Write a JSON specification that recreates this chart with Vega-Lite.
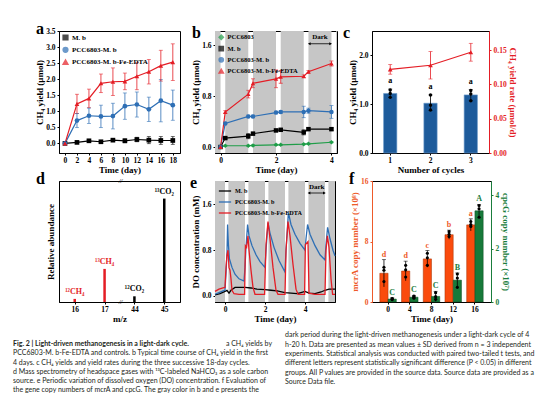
{
"$schema": "https://vega.github.io/schema/vega-lite/v6.json",
"background": "white",
"padding": {"left": 13, "top": 20, "right": 0, "bottom": 0},
"config": {
  "font": "Liberation Serif",
  "view": {"stroke": "black", "strokeWidth": 1},
  "axis": {"labelFont": "Liberation Serif", "labelFontWeight": "bold", "labelFontSize": 7.5, "labelColor": "black", "titleFont": "Liberation Serif", "titleFontWeight": "bold", "titleFontSize": 9, "titleColor": "black", "domainColor": "black", "tickColor": "black", "tickSize": 2, "labelPadding": 1, "titlePadding": 1.5, "grid": false, "minExtent": 0, "labelFlush": false, "labelOverlap": false},
  "axisY": {"labelPadding": 2},
  "title": {"font": "Liberation Serif", "fontSize": 16, "fontWeight": "bold", "anchor": "start", "frame": "group", "color": "black", "offset": -10, "baseline": "alphabetic"},
  "legend": {"labelFont": "Liberation Serif", "labelFontWeight": "bold", "labelColor": "black"}
},
"datasets": {
  "a": [
    {"s":"M. b","t":0,"v":0,"e":0},{"s":"M. b","t":2,"v":0.03,"e":0.03},{"s":"M. b","t":4,"v":0.08,"e":0.04},{"s":"M. b","t":6,"v":0.05,"e":0.03},{"s":"M. b","t":8,"v":0.1,"e":0.04},{"s":"M. b","t":10,"v":0.08,"e":0.06},{"s":"M. b","t":12,"v":0.12,"e":0.07},{"s":"M. b","t":14,"v":0.1,"e":0.11},{"s":"M. b","t":16,"v":0.09,"e":0.12},{"s":"M. b","t":18,"v":0.09,"e":0.12},
    {"s":"PCC6803-M. b","t":0,"v":0,"e":0},{"s":"PCC6803-M. b","t":2,"v":0.71,"e":0.22},{"s":"PCC6803-M. b","t":4,"v":0.86,"e":0.24},{"s":"PCC6803-M. b","t":6,"v":0.84,"e":0.35},{"s":"PCC6803-M. b","t":8,"v":0.85,"e":0.4},{"s":"PCC6803-M. b","t":10,"v":1.16,"e":0.41},{"s":"PCC6803-M. b","t":12,"v":1.21,"e":0.39},{"s":"PCC6803-M. b","t":14,"v":1.06,"e":0.38},{"s":"PCC6803-M. b","t":16,"v":1.33,"e":0.66},{"s":"PCC6803-M. b","t":18,"v":1.19,"e":0.47},
    {"s":"PCC6803-M. b-Fe-EDTA","t":0,"v":0,"e":0},{"s":"PCC6803-M. b-Fe-EDTA","t":2,"v":1.23,"e":0.3},{"s":"PCC6803-M. b-Fe-EDTA","t":4,"v":1.4,"e":0.29},{"s":"PCC6803-M. b-Fe-EDTA","t":6,"v":1.87,"e":0.29},{"s":"PCC6803-M. b-Fe-EDTA","t":8,"v":1.92,"e":0.43},{"s":"PCC6803-M. b-Fe-EDTA","t":10,"v":1.93,"e":0.26},{"s":"PCC6803-M. b-Fe-EDTA","t":12,"v":2.09,"e":0.42},{"s":"PCC6803-M. b-Fe-EDTA","t":14,"v":2.23,"e":0.38},{"s":"PCC6803-M. b-Fe-EDTA","t":16,"v":2.42,"e":0.48},{"s":"PCC6803-M. b-Fe-EDTA","t":18,"v":2.53,"e":0.57}
  ],
  "b": [
    {"s":"PCC6803","t":0,"v":0,"e":0},{"s":"PCC6803","t":0.17,"v":0.02,"e":0.01},{"s":"PCC6803","t":1,"v":0.02,"e":0.01},{"s":"PCC6803","t":1.17,"v":0.025,"e":0.01},{"s":"PCC6803","t":2,"v":0.035,"e":0.01},{"s":"PCC6803","t":2.17,"v":0.035,"e":0.01},{"s":"PCC6803","t":3,"v":0.045,"e":0.01},{"s":"PCC6803","t":3.17,"v":0.05,"e":0.01},{"s":"PCC6803","t":4,"v":0.075,"e":0.01},
    {"s":"M. b","t":0,"v":0,"e":0},{"s":"M. b","t":0.17,"v":0.14,"e":0.02},{"s":"M. b","t":1,"v":0.17,"e":0.04},{"s":"M. b","t":1.17,"v":0.21,"e":0.02},{"s":"M. b","t":2,"v":0.26,"e":0.02},{"s":"M. b","t":2.17,"v":0.27,"e":0.02},{"s":"M. b","t":3,"v":0.23,"e":0.04},{"s":"M. b","t":3.17,"v":0.28,"e":0.02},{"s":"M. b","t":4,"v":0.28,"e":0.02},
    {"s":"PCC6803-M. b","t":0,"v":0,"e":0},{"s":"PCC6803-M. b","t":0.17,"v":0.37,"e":0.02},{"s":"PCC6803-M. b","t":1,"v":0.48,"e":0.02},{"s":"PCC6803-M. b","t":1.17,"v":0.48,"e":0.02},{"s":"PCC6803-M. b","t":2,"v":0.54,"e":0.02},{"s":"PCC6803-M. b","t":2.17,"v":0.55,"e":0.02},{"s":"PCC6803-M. b","t":3,"v":0.55,"e":0.09},{"s":"PCC6803-M. b","t":3.17,"v":0.57,"e":0.04},{"s":"PCC6803-M. b","t":4,"v":0.55,"e":0.1},
    {"s":"PCC6803-M. b-Fe-EDTA","t":0,"v":0,"e":0},{"s":"PCC6803-M. b-Fe-EDTA","t":0.17,"v":0.55,"e":0.02},{"s":"PCC6803-M. b-Fe-EDTA","t":1,"v":0.83,"e":0.06},{"s":"PCC6803-M. b-Fe-EDTA","t":1.17,"v":1.0,"e":0.07},{"s":"PCC6803-M. b-Fe-EDTA","t":2,"v":1.07,"e":0.14},{"s":"PCC6803-M. b-Fe-EDTA","t":2.17,"v":1.1,"e":0.1},{"s":"PCC6803-M. b-Fe-EDTA","t":3,"v":1.11,"e":0.02},{"s":"PCC6803-M. b-Fe-EDTA","t":3.17,"v":1.18,"e":0.02},{"s":"PCC6803-M. b-Fe-EDTA","t":4,"v":1.31,"e":0.04}
  ],
  "bandsB": [{"start":-0.2,"end":0},{"start":0.17,"end":1},{"start":1.17,"end":2},{"start":2.17,"end":3},{"start":3.17,"end":4},{"start":4.17,"end":4.2}],
  "darkB": [{"start":3.2,"end":3.97,"mid":3.585,"ay":1.62,"ty":1.73,"label":"Dark"}],
  "bandsE": [{"start":-0.5,"end":0},{"start":0.17,"end":1},{"start":1.17,"end":2},{"start":2.17,"end":3},{"start":3.17,"end":4},{"start":4.17,"end":5},{"start":5.17,"end":5.5}],
  "darkE": [{"start":4.2,"end":4.97,"mid":4.585,"ay":1.8,"ty":1.91,"label":"Dark"}],
  "cbar": [{"cycle":1,"v":1.22,"lo":1.14,"hi":1.31,"letter":"a"},{"cycle":2,"v":1.02,"lo":0.87,"hi":1.19,"letter":"a"},{"cycle":3,"v":1.19,"lo":1.07,"hi":1.3,"letter":"a"}],
  "cdot": [{"cycle":1,"v":1.29},{"cycle":1,"v":1.22},{"cycle":1,"v":1.14},{"cycle":2,"v":1.19},{"cycle":2,"v":0.98},{"cycle":2,"v":0.88},{"cycle":3,"v":1.28},{"cycle":3,"v":1.21},{"cycle":3,"v":1.07}],
  "crate": [{"cycle":1,"v":0.122,"lo":0.115,"hi":0.129},{"cycle":2,"v":0.128,"lo":0.108,"hi":0.148},{"cycle":3,"v":0.147,"lo":0.134,"hi":0.16}],
  "d": [{"mz":"16","v":0.03,"label":"¹²CH₄","g":"CH4"},{"mz":"17","v":0.32,"label":"¹³CH₄","g":"CH4"},{"mz":"44","v":0.055,"label":"¹²CO₂","g":"CO2"},{"mz":"45","v":1.0,"label":"¹³CO₂","g":"CO2"}],
  "dbreak": [{"mz":"17","v":1.17,"mark":"//"},{"mz":"17","v":0,"mark":"//"}],
  "e": [
    {"s":"M. b","t":-0.5,"v":0.02},{"s":"M. b","t":-0.25,"v":0.04},{"s":"M. b","t":0,"v":0.08},{"s":"M. b","t":0.1,"v":0.1},{"s":"M. b","t":0.2,"v":0.05},{"s":"M. b","t":0.3,"v":0.1},{"s":"M. b","t":0.5,"v":0.15},{"s":"M. b","t":0.8,"v":0.15},{"s":"M. b","t":1.0,"v":0.15},{"s":"M. b","t":1.3,"v":0.14},{"s":"M. b","t":1.6,"v":0.12},{"s":"M. b","t":2.0,"v":0.11},{"s":"M. b","t":2.3,"v":0.1},{"s":"M. b","t":2.6,"v":0.09},{"s":"M. b","t":3.0,"v":0.06},{"s":"M. b","t":3.3,"v":0.05},{"s":"M. b","t":3.6,"v":0.04},{"s":"M. b","t":3.8,"v":0.06},{"s":"M. b","t":4.0,"v":0.08},{"s":"M. b","t":4.2,"v":0.05},{"s":"M. b","t":4.5,"v":0.04},{"s":"M. b","t":4.8,"v":0.07},{"s":"M. b","t":5.0,"v":0.1},{"s":"M. b","t":5.2,"v":0.12},{"s":"M. b","t":5.5,"v":0.12},
    {"s":"PCC6803-M. b","t":-0.5,"v":0.03},{"s":"PCC6803-M. b","t":-0.3,"v":0.06},{"s":"PCC6803-M. b","t":-0.1,"v":0.09},{"s":"PCC6803-M. b","t":0,"v":0.1},{"s":"PCC6803-M. b","t":0.05,"v":0.4},{"s":"PCC6803-M. b","t":0.1,"v":0.75},{"s":"PCC6803-M. b","t":0.13,"v":1.25},{"s":"PCC6803-M. b","t":0.17,"v":0.9},{"s":"PCC6803-M. b","t":0.22,"v":0.65},{"s":"PCC6803-M. b","t":0.35,"v":0.5},{"s":"PCC6803-M. b","t":0.5,"v":0.38},{"s":"PCC6803-M. b","t":0.7,"v":0.3},{"s":"PCC6803-M. b","t":0.95,"v":0.26},{"s":"PCC6803-M. b","t":1.0,"v":0.5},{"s":"PCC6803-M. b","t":1.05,"v":0.85},{"s":"PCC6803-M. b","t":1.13,"v":1.25},{"s":"PCC6803-M. b","t":1.2,"v":1.05},{"s":"PCC6803-M. b","t":1.35,"v":0.88},{"s":"PCC6803-M. b","t":1.55,"v":0.72},{"s":"PCC6803-M. b","t":1.75,"v":0.6},{"s":"PCC6803-M. b","t":2.0,"v":0.5},{"s":"PCC6803-M. b","t":2.05,"v":0.8},{"s":"PCC6803-M. b","t":2.15,"v":1.28},{"s":"PCC6803-M. b","t":2.25,"v":1.1},{"s":"PCC6803-M. b","t":2.45,"v":0.85},{"s":"PCC6803-M. b","t":2.7,"v":0.62},{"s":"PCC6803-M. b","t":3.0,"v":0.42},{"s":"PCC6803-M. b","t":3.05,"v":0.8},{"s":"PCC6803-M. b","t":3.17,"v":1.46},{"s":"PCC6803-M. b","t":3.3,"v":1.25},{"s":"PCC6803-M. b","t":3.5,"v":1.08},{"s":"PCC6803-M. b","t":3.75,"v":0.92},{"s":"PCC6803-M. b","t":4.0,"v":0.8},{"s":"PCC6803-M. b","t":4.05,"v":1.0},{"s":"PCC6803-M. b","t":4.13,"v":1.25},{"s":"PCC6803-M. b","t":4.25,"v":1.08},{"s":"PCC6803-M. b","t":4.5,"v":0.88},{"s":"PCC6803-M. b","t":4.75,"v":0.72},{"s":"PCC6803-M. b","t":5.0,"v":0.63},{"s":"PCC6803-M. b","t":5.05,"v":0.9},{"s":"PCC6803-M. b","t":5.13,"v":1.2},{"s":"PCC6803-M. b","t":5.25,"v":1.0},{"s":"PCC6803-M. b","t":5.4,"v":0.8},{"s":"PCC6803-M. b","t":5.5,"v":0.7},
    {"s":"PCC6803-M. b-Fe-EDTA","t":-0.5,"v":0.08},{"s":"PCC6803-M. b-Fe-EDTA","t":-0.3,"v":0.12},{"s":"PCC6803-M. b-Fe-EDTA","t":-0.1,"v":0.14},{"s":"PCC6803-M. b-Fe-EDTA","t":0,"v":0.15},{"s":"PCC6803-M. b-Fe-EDTA","t":0.05,"v":0.5},{"s":"PCC6803-M. b-Fe-EDTA","t":0.1,"v":0.72},{"s":"PCC6803-M. b-Fe-EDTA","t":0.15,"v":0.8},{"s":"PCC6803-M. b-Fe-EDTA","t":0.2,"v":0.5},{"s":"PCC6803-M. b-Fe-EDTA","t":0.25,"v":0.45},{"s":"PCC6803-M. b-Fe-EDTA","t":0.3,"v":0.3},{"s":"PCC6803-M. b-Fe-EDTA","t":0.35,"v":0.1},{"s":"PCC6803-M. b-Fe-EDTA","t":0.45,"v":0.04},{"s":"PCC6803-M. b-Fe-EDTA","t":0.7,"v":0.03},{"s":"PCC6803-M. b-Fe-EDTA","t":0.98,"v":0.03},{"s":"PCC6803-M. b-Fe-EDTA","t":1.02,"v":0.88},{"s":"PCC6803-M. b-Fe-EDTA","t":1.08,"v":0.85},{"s":"PCC6803-M. b-Fe-EDTA","t":1.15,"v":1.05},{"s":"PCC6803-M. b-Fe-EDTA","t":1.2,"v":0.8},{"s":"PCC6803-M. b-Fe-EDTA","t":1.3,"v":0.45},{"s":"PCC6803-M. b-Fe-EDTA","t":1.4,"v":0.15},{"s":"PCC6803-M. b-Fe-EDTA","t":1.5,"v":0.03},{"s":"PCC6803-M. b-Fe-EDTA","t":1.98,"v":0.03},{"s":"PCC6803-M. b-Fe-EDTA","t":2.05,"v":0.9},{"s":"PCC6803-M. b-Fe-EDTA","t":2.15,"v":1.3},{"s":"PCC6803-M. b-Fe-EDTA","t":2.25,"v":1.0},{"s":"PCC6803-M. b-Fe-EDTA","t":2.4,"v":0.5},{"s":"PCC6803-M. b-Fe-EDTA","t":2.55,"v":0.1},{"s":"PCC6803-M. b-Fe-EDTA","t":2.65,"v":0.03},{"s":"PCC6803-M. b-Fe-EDTA","t":3.0,"v":0.03},{"s":"PCC6803-M. b-Fe-EDTA","t":3.05,"v":0.8},{"s":"PCC6803-M. b-Fe-EDTA","t":3.15,"v":1.3},{"s":"PCC6803-M. b-Fe-EDTA","t":3.25,"v":1.05},{"s":"PCC6803-M. b-Fe-EDTA","t":3.4,"v":0.55},{"s":"PCC6803-M. b-Fe-EDTA","t":3.55,"v":0.12},{"s":"PCC6803-M. b-Fe-EDTA","t":3.65,"v":0.03},{"s":"PCC6803-M. b-Fe-EDTA","t":3.98,"v":0.03},{"s":"PCC6803-M. b-Fe-EDTA","t":4.02,"v":0.9},{"s":"PCC6803-M. b-Fe-EDTA","t":4.15,"v":0.95},{"s":"PCC6803-M. b-Fe-EDTA","t":4.2,"v":0.05},{"s":"PCC6803-M. b-Fe-EDTA","t":4.5,"v":0.03},{"s":"PCC6803-M. b-Fe-EDTA","t":5.0,"v":0.03},{"s":"PCC6803-M. b-Fe-EDTA","t":5.05,"v":0.8},{"s":"PCC6803-M. b-Fe-EDTA","t":5.12,"v":1.05},{"s":"PCC6803-M. b-Fe-EDTA","t":5.2,"v":0.85},{"s":"PCC6803-M. b-Fe-EDTA","t":5.3,"v":0.3},{"s":"PCC6803-M. b-Fe-EDTA","t":5.38,"v":0.03},{"s":"PCC6803-M. b-Fe-EDTA","t":5.5,"v":0.03}
  ],
  "fm": [{"t":0,"gene":"mcrA","v":3.8,"lo":2.0,"hi":5.6,"letter":"d"},{"t":4,"gene":"mcrA","v":4.1,"lo":2.8,"hi":5.4,"letter":"d"},{"t":8,"gene":"mcrA","v":5.7,"lo":4.6,"hi":6.8,"letter":"c"},{"t":12,"gene":"mcrA","v":8.9,"lo":8.3,"hi":9.5,"letter":"b"},{"t":16,"gene":"mcrA","v":10.2,"lo":9.4,"hi":11.0,"letter":"a"}],
  "fmd": [{"t":0,"gene":"mcrA","v":4.6},{"t":0,"gene":"mcrA","v":4.2},{"t":0,"gene":"mcrA","v":2.7},{"t":4,"gene":"mcrA","v":4.85},{"t":4,"gene":"mcrA","v":4.25},{"t":4,"gene":"mcrA","v":3.3},{"t":8,"gene":"mcrA","v":6.45},{"t":8,"gene":"mcrA","v":5.85},{"t":8,"gene":"mcrA","v":4.85},{"t":12,"gene":"mcrA","v":9.3},{"t":12,"gene":"mcrA","v":8.95},{"t":12,"gene":"mcrA","v":8.65},{"t":16,"gene":"mcrA","v":10.65},{"t":16,"gene":"mcrA","v":10.25},{"t":16,"gene":"mcrA","v":10.0}],
  "fc": [{"t":0,"gene":"cpcG","v":0.11,"lo":0.06,"hi":0.16,"letter":"C"},{"t":4,"gene":"cpcG","v":0.18,"lo":0.11,"hi":0.25,"letter":"C"},{"t":8,"gene":"cpcG","v":0.21,"lo":0.02,"hi":0.4,"letter":"C"},{"t":12,"gene":"cpcG","v":0.82,"lo":0.55,"hi":1.09,"letter":"B"},{"t":16,"gene":"cpcG","v":3.42,"lo":3.18,"hi":3.66,"letter":"A"}],
  "fcd": [{"t":0,"gene":"cpcG","v":0.13},{"t":0,"gene":"cpcG","v":0.11},{"t":0,"gene":"cpcG","v":0.09},{"t":4,"gene":"cpcG","v":0.22},{"t":4,"gene":"cpcG","v":0.18},{"t":4,"gene":"cpcG","v":0.14},{"t":8,"gene":"cpcG","v":0.35},{"t":8,"gene":"cpcG","v":0.2},{"t":8,"gene":"cpcG","v":0.1},{"t":12,"gene":"cpcG","v":1.05},{"t":12,"gene":"cpcG","v":0.9},{"t":12,"gene":"cpcG","v":0.55},{"t":16,"gene":"cpcG","v":3.62},{"t":16,"gene":"cpcG","v":3.5},{"t":16,"gene":"cpcG","v":3.18}],
  "cap": [
    {"col":"L","line":1,"part":"head","txt":"Fig. 2 | Light-driven methanogenesis in a light-dark cycle."},
    {"col":"L","line":1,"part":"tail","txt":"a CH₄ yields by"},
    {"col":"L","line":2,"part":"body","txt":"PCC6803-M. b-Fe-EDTA and controls. b Typical time course of CH₄ yield in the first"},
    {"col":"L","line":3,"part":"body","txt":"4 days. c CH₄ yields and yield rates during the three successive 18-day cycles."},
    {"col":"L","line":4,"part":"body","txt":"d Mass spectrometry of headspace gases with ¹³C-labeled NaHCO₃ as a sole carbon"},
    {"col":"L","line":5,"part":"body","txt":"source. e Periodic variation of dissolved oxygen (DO) concentration. f Evaluation of"},
    {"col":"L","line":6,"part":"body","txt":"the gene copy numbers of mcrA and cpcG. The gray color in b and e presents the"},
    {"col":"R","line":1,"part":"body","txt":"dark period during the light-driven methanogenesis under a light-dark cycle of 4"},
    {"col":"R","line":2,"part":"body","txt":"h-20 h. Data are presented as mean values ± SD derived from n = 3 independent"},
    {"col":"R","line":3,"part":"body","txt":"experiments. Statistical analysis was conducted with paired two-tailed t tests, and"},
    {"col":"R","line":4,"part":"body","txt":"different letters represent statistically significant difference (P < 0.05) in different"},
    {"col":"R","line":5,"part":"body","txt":"groups. All P values are provided in the source data. Source data are provided as a"},
    {"col":"R","line":6,"part":"body","txt":"Source Data file."}
  ]
},
"columns": 3,
"align": "each",
"bounds": "flush",
"spacing": {"row": 28, "column": 35},
"resolve": {"scale": {"color": "independent", "shape": "independent", "strokeWidth": "independent"}, "legend": {"color": "independent", "shape": "independent", "strokeWidth": "independent"}},
"concat": [
   {
    "width": 121, "height": 122,
    "title": {"text": "a", "dx": -23},
    "data": {"name": "a"},
    "encoding": {
      "x": {"field": "t", "type": "quantitative", "title": "Time (day)", "scale": {"domain": [-1, 19.2], "nice": false, "zero": false}, "axis": {"values": [0,2,4,6,8,10,12,14,16,18]}},
      "y": {"field": "v", "type": "quantitative", "title": "CH₄ yield (μmol)", "scale": {"domain": [-0.3, 3.5], "nice": false, "zero": false}, "axis": {"values": [0,0.5,1,1.5,2,2.5,3,3.5], "format": ".1f"}},
      "color": {"field": "s", "type": "nominal", "scale": {"domain": ["M. b","PCC6803-M. b","PCC6803-M. b-Fe-EDTA"], "range": ["#000000","#2e6fb5","#e41d25"]}, "legend": {"orient": "top-left", "title": null, "offset": 3, "labelFontSize": 7, "symbolSize": 22, "rowPadding": 1.3, "padding": 0, "labelOffset": 3}}
    },
    "layer": [
      {"mark": {"type": "errorbar", "ticks": true, "size": 4, "thickness": 0.8}, "encoding": {"yError": {"field": "e"}}},
      {"mark": {"type": "line", "strokeWidth": 1.2}},
      {"mark": {"type": "point", "filled": true, "size": 22, "opacity": 1}, "encoding": {"shape": {"field": "s", "type": "nominal", "scale": {"domain": ["M. b","PCC6803-M. b","PCC6803-M. b-Fe-EDTA"], "range": ["square","circle","triangle-up"]}, "legend": {"orient": "top-left", "title": null, "offset": 3, "labelFontSize": 7, "symbolSize": 22, "rowPadding": 1.3, "padding": 0, "labelOffset": 3}}}}
    ]
   },
   {
    "width": 122, "height": 122,
    "title": {"text": "b", "dx": -23},
    "layer": [
      {"data": {"name": "bandsB"}, "mark": {"type": "rect", "color": "#c6c6c6"}, "encoding": {"x": {"field": "start", "type": "quantitative", "title": "Time (day)", "scale": {"domain": [-0.2, 4.2], "nice": false, "zero": false}, "axis": {"values": [0,1,2,3,4]}}, "x2": {"field": "end"}}},
      {"data": {"name": "b"},
       "encoding": {
         "x": {"field": "t", "type": "quantitative", "title": "Time (day)"},
         "y": {"field": "v", "type": "quantitative", "title": "CH₄ yield (μmol)", "scale": {"domain": [-0.094, 1.82], "nice": false, "zero": false}, "axis": {"values": [0,0.4,0.8,1.2,1.6], "format": ".1f"}},
         "color": {"field": "s", "type": "nominal", "scale": {"domain": ["PCC6803","M. b","PCC6803-M. b","PCC6803-M. b-Fe-EDTA"], "range": ["#1f9d48","#000000","#2e6fb5","#e41d25"]}, "legend": {"orient": "top-left", "title": null, "offset": 3, "labelFontSize": 6.5, "symbolSize": 18, "rowPadding": 0.3, "padding": 0, "labelOffset": 3}}
       },
       "layer": [
         {"mark": {"type": "errorbar", "ticks": true, "size": 4, "thickness": 0.8}, "encoding": {"yError": {"field": "e"}}},
         {"mark": {"type": "line", "strokeWidth": 1.2}},
         {"mark": {"type": "point", "filled": true, "size": 20, "opacity": 1}, "encoding": {"shape": {"field": "s", "type": "nominal", "scale": {"domain": ["PCC6803","M. b","PCC6803-M. b","PCC6803-M. b-Fe-EDTA"], "range": ["diamond","square","circle","triangle-up"]}, "legend": {"orient": "top-left", "title": null, "offset": 3, "labelFontSize": 6.5, "symbolSize": 18, "rowPadding": 0.3, "padding": 0, "labelOffset": 3}}}}
       ]
      },
      {"data": {"name": "darkB"}, "mark": {"type": "text", "fontSize": 7, "fontWeight": "bold", "baseline": "middle"}, "encoding": {"x": {"field": "mid", "type": "quantitative", "title": "Time (day)"}, "y": {"field": "ty", "type": "quantitative", "title": "CH₄ yield (μmol)"}, "text": {"field": "label"}}},
      {"data": {"name": "darkB"}, "mark": {"type": "rule", "strokeWidth": 0.8, "color": "black"}, "encoding": {"x": {"field": "start", "type": "quantitative", "title": "Time (day)"}, "x2": {"field": "end"}, "y": {"field": "ay", "type": "quantitative", "title": "CH₄ yield (μmol)"}}},
      {"data": {"name": "darkB"}, "mark": {"type": "point", "shape": "triangle-left", "filled": true, "size": 10, "color": "black", "opacity": 1}, "encoding": {"x": {"field": "start", "type": "quantitative", "title": "Time (day)"}, "y": {"field": "ay", "type": "quantitative", "title": "CH₄ yield (μmol)"}}},
      {"data": {"name": "darkB"}, "mark": {"type": "point", "shape": "triangle-right", "filled": true, "size": 10, "color": "black", "opacity": 1}, "encoding": {"x": {"field": "end", "type": "quantitative", "title": "Time (day)"}, "y": {"field": "ay", "type": "quantitative", "title": "CH₄ yield (μmol)"}}}
    ]
   },
   {
    "width": 117, "height": 122,
    "title": {"text": "c", "dx": -29},
    "layer": [
      {"encoding": {"x": {"field": "cycle", "type": "ordinal", "title": "Number of cycles", "scale": {"domain": [1,2,3], "paddingInner": 0.67, "paddingOuter": 0.287}, "axis": {"labelAngle": 0}}},
       "layer": [
         {"data": {"name": "cbar"}, "mark": {"type": "bar", "color": "#1d5b9b", "stroke": "#6f9ccc", "strokeWidth": 0.6}, "encoding": {"y": {"field": "v", "type": "quantitative", "title": "CH₄ yield (μmol)", "scale": {"domain": [0, 2.5], "nice": false}, "axis": {"values": [0,0.5,1,1.5,2,2.5], "format": ".1f"}}}},
         {"data": {"name": "cbar"}, "mark": {"type": "errorbar", "ticks": true, "size": 4, "thickness": 0.8, "color": "black"}, "encoding": {"y": {"field": "lo", "type": "quantitative", "title": "CH₄ yield (μmol)"}, "y2": {"field": "hi"}}},
         {"data": {"name": "cdot"}, "mark": {"type": "point", "filled": true, "size": 12, "color": "black", "opacity": 1}, "encoding": {"y": {"field": "v", "type": "quantitative", "title": "CH₄ yield (μmol)"}}},
         {"data": {"name": "cbar"}, "mark": {"type": "text", "baseline": "bottom", "dy": -4, "fontSize": 8, "fontWeight": "bold"}, "encoding": {"y": {"field": "hi", "type": "quantitative", "title": "CH₄ yield (μmol)"}, "text": {"field": "letter"}}}
       ]
      },
      {"data": {"name": "crate"},
       "encoding": {"x": {"field": "cycle", "type": "ordinal", "title": "Number of cycles"}},
       "layer": [
         {"mark": {"type": "errorbar", "ticks": true, "size": 4, "thickness": 0.8, "color": "#e41d25"}, "encoding": {"y": {"field": "lo", "type": "quantitative", "title": "CH₄ yield rate (μmol/d)"}, "y2": {"field": "hi"}}},
         {"mark": {"type": "line", "strokeWidth": 1.2, "color": "#e41d25"}, "encoding": {"y": {"field": "v", "type": "quantitative", "title": "CH₄ yield rate (μmol/d)", "scale": {"domain": [0, 0.178], "nice": false}, "axis": {"orient": "right", "values": [0,0.05,0.1,0.15], "format": ".2f", "domainColor": "#e41d25", "tickColor": "#e41d25", "labelColor": "#e41d25", "titleColor": "#e41d25"}}}},
         {"mark": {"type": "point", "shape": "triangle-up", "filled": true, "size": 22, "color": "#e41d25", "opacity": 1}, "encoding": {"y": {"field": "v", "type": "quantitative", "title": "CH₄ yield rate (μmol/d)"}}}
       ]
      }
    ],
    "resolve": {"scale": {"y": "independent"}}
   },
   {
    "width": 121, "height": 121,
    "title": {"text": "d", "dx": -23},
    "layer": [
      {"data": {"name": "d"}, "mark": {"type": "bar", "size": 2.5},
       "encoding": {
         "x": {"field": "mz", "type": "ordinal", "title": "m/z", "scale": {"type": "point", "domain": ["16","17","44","45"], "padding": 0.527}, "axis": {"labelAngle": 0}},
         "y": {"field": "v", "type": "quantitative", "title": "Relative abundance", "scale": {"domain": [0, 1.17], "nice": false}, "axis": {"labels": false, "ticks": false, "titlePadding": 4}},
         "color": {"field": "g", "type": "nominal", "scale": {"domain": ["CH4","CO2"], "range": ["#e41d25","#000000"]}, "legend": null}
       }},
      {"data": {"name": "d"}, "mark": {"type": "text", "baseline": "bottom", "dy": -3, "fontSize": 8, "fontWeight": "bold"},
       "encoding": {
         "x": {"field": "mz", "type": "ordinal", "title": "m/z"},
         "y": {"field": "v", "type": "quantitative", "title": "Relative abundance"},
         "text": {"field": "label"},
         "color": {"field": "g", "type": "nominal", "legend": null}
       }},
      {"data": {"name": "dbreak"}, "mark": {"type": "text", "baseline": "middle", "dx": 16, "fontSize": 7, "fontStyle": "italic", "color": "black"},
       "encoding": {
         "x": {"field": "mz", "type": "ordinal", "title": "m/z"},
         "y": {"field": "v", "type": "quantitative", "title": "Relative abundance"},
         "text": {"field": "mark"}
       }}
    ]
   },
   {
    "width": 120, "height": 121,
    "title": {"text": "e", "dx": -25},
    "layer": [
      {"data": {"name": "bandsE"}, "mark": {"type": "rect", "color": "#c6c6c6"}, "encoding": {"x": {"field": "start", "type": "quantitative", "title": "Time (day)", "scale": {"domain": [-0.5, 5.5], "nice": false, "zero": false}, "axis": {"values": [0,1,2,3,4,5]}}, "x2": {"field": "end"}}},
      {"data": {"name": "e"}, "mark": {"type": "line"},
       "encoding": {
         "x": {"field": "t", "type": "quantitative", "title": "Time (day)"},
         "y": {"field": "v", "type": "quantitative", "title": "DO concentration (mM)", "scale": {"domain": [-0.105, 2.01], "nice": false, "zero": false}, "axis": {"values": [0,0.4,0.8,1.2,1.6,2.0], "format": ".1f"}},
         "color": {"field": "s", "type": "nominal", "scale": {"domain": ["M. b","PCC6803-M. b","PCC6803-M. b-Fe-EDTA"], "range": ["#000000","#2e6fb5","#e41d25"]}, "legend": {"orient": "top-left", "title": null, "offset": 3, "labelFontSize": 6.2, "symbolType": "stroke", "symbolSize": 150, "symbolStrokeWidth": 1.5, "rowPadding": 0, "padding": 0, "labelOffset": 3}},
         "strokeWidth": {"field": "s", "type": "nominal", "scale": {"domain": ["M. b","PCC6803-M. b","PCC6803-M. b-Fe-EDTA"], "range": [1.3, 1.3, 1.8]}, "legend": null}
       }},
      {"data": {"name": "darkE"}, "mark": {"type": "text", "fontSize": 7, "fontWeight": "bold", "baseline": "middle"}, "encoding": {"x": {"field": "mid", "type": "quantitative", "title": "Time (day)"}, "y": {"field": "ty", "type": "quantitative", "title": "DO concentration (mM)"}, "text": {"field": "label"}}},
      {"data": {"name": "darkE"}, "mark": {"type": "rule", "strokeWidth": 0.8, "color": "black"}, "encoding": {"x": {"field": "start", "type": "quantitative", "title": "Time (day)"}, "x2": {"field": "end"}, "y": {"field": "ay", "type": "quantitative", "title": "DO concentration (mM)"}}},
      {"data": {"name": "darkE"}, "mark": {"type": "point", "shape": "triangle-left", "filled": true, "size": 10, "color": "black", "opacity": 1}, "encoding": {"x": {"field": "start", "type": "quantitative", "title": "Time (day)"}, "y": {"field": "ay", "type": "quantitative", "title": "DO concentration (mM)"}}},
      {"data": {"name": "darkE"}, "mark": {"type": "point", "shape": "triangle-right", "filled": true, "size": 10, "color": "black", "opacity": 1}, "encoding": {"x": {"field": "end", "type": "quantitative", "title": "Time (day)"}, "y": {"field": "ay", "type": "quantitative", "title": "DO concentration (mM)"}}}
    ]
   },
   {
    "width": 119, "height": 121,
    "title": {"text": "f", "dx": -23},
    "encoding": {
      "x": {"field": "t", "type": "ordinal", "title": "Time (day)", "scale": {"domain": [0,4,8,12,16], "paddingInner": 0.24, "paddingOuter": 0.36}, "axis": {"labelAngle": 0}},
      "xOffset": {"field": "gene", "type": "nominal", "scale": {"domain": ["mcrA","cpcG"]}}
    },
    "layer": [
      {"layer": [
        {"data": {"name": "fm"}, "mark": {"type": "bar", "color": "#fa4b0d", "stroke": "#a33000", "strokeWidth": 0.5}, "encoding": {"y": {"field": "v", "type": "quantitative", "title": "mcrA copy number (×10⁸)", "scale": {"domain": [0, 16], "nice": false}, "axis": {"values": [0,4,8,12,16], "domainColor": "#ee5a2a", "tickColor": "#ee5a2a", "labelColor": "#ee5a2a", "titleColor": "#ee5a2a"}}}},
        {"data": {"name": "fm"}, "mark": {"type": "rule", "color": "black", "strokeWidth": 0.8}, "encoding": {"y": {"field": "lo", "type": "quantitative", "title": "mcrA copy number (×10⁸)"}, "y2": {"field": "hi"}}},
        {"data": {"name": "fm"}, "mark": {"type": "tick", "color": "black", "thickness": 0.8, "size": 4, "orient": "horizontal"}, "encoding": {"y": {"field": "hi", "type": "quantitative", "title": "mcrA copy number (×10⁸)"}}},
        {"data": {"name": "fmd"}, "mark": {"type": "point", "filled": true, "size": 10, "color": "black", "opacity": 1}, "encoding": {"y": {"field": "v", "type": "quantitative", "title": "mcrA copy number (×10⁸)"}}},
        {"data": {"name": "fm"}, "mark": {"type": "text", "baseline": "bottom", "dy": -1, "fontSize": 8, "fontWeight": "bold", "color": "#ee5a2a"}, "encoding": {"y": {"field": "hi", "type": "quantitative", "title": "mcrA copy number (×10⁸)"}, "text": {"field": "letter"}}}
      ]},
      {"layer": [
        {"data": {"name": "fc"}, "mark": {"type": "bar", "color": "#177a3a", "stroke": "#0d4a22", "strokeWidth": 0.5}, "encoding": {"y": {"field": "v", "type": "quantitative", "title": "cpcG copy number (×10⁷)", "scale": {"domain": [0, 4.54], "nice": false}, "axis": {"orient": "right", "values": [0,1,2,3,4], "domainColor": "#1a7d3c", "tickColor": "#1a7d3c", "labelColor": "#1a7d3c", "titleColor": "#1a7d3c"}}}},
        {"data": {"name": "fc"}, "mark": {"type": "rule", "color": "black", "strokeWidth": 0.8}, "encoding": {"y": {"field": "lo", "type": "quantitative", "title": "cpcG copy number (×10⁷)"}, "y2": {"field": "hi"}}},
        {"data": {"name": "fc"}, "mark": {"type": "tick", "color": "black", "thickness": 0.8, "size": 4, "orient": "horizontal"}, "encoding": {"y": {"field": "hi", "type": "quantitative", "title": "cpcG copy number (×10⁷)"}}},
        {"data": {"name": "fcd"}, "mark": {"type": "point", "filled": true, "size": 10, "color": "black", "opacity": 1}, "encoding": {"y": {"field": "v", "type": "quantitative", "title": "cpcG copy number (×10⁷)"}}},
        {"data": {"name": "fc"}, "mark": {"type": "text", "baseline": "bottom", "dy": -1, "fontSize": 8, "fontWeight": "bold", "color": "#1a7d3c"}, "encoding": {"y": {"field": "hi", "type": "quantitative", "title": "cpcG copy number (×10⁷)"}, "text": {"field": "letter"}}}
      ]}
    ],
    "resolve": {"scale": {"y": "independent"}}
   },
   {
    "width": 121, "height": 60.45,
    "view": {"stroke": null},
    "data": {"name": "cap"},
    "encoding": {
      "x": {"field": "col", "type": "nominal", "scale": {"type": "point", "domain": ["L","R"], "padding": 0}, "axis": null},
      "y": {"field": "line", "type": "quantitative", "scale": {"domain": [-0.5, 6], "reverse": true, "nice": false, "zero": false}, "axis": null},
      "text": {"field": "txt"}
    },
    "layer": [
      {"transform": [{"filter": "datum.col == 'L' && datum.part == 'body'"}], "mark": {"type": "text", "align": "left", "baseline": "middle", "dx": -46, "font": "Lato", "fontSize": 7, "color": "#231f20"}},
      {"transform": [{"filter": "datum.part == 'head'"}], "mark": {"type": "text", "align": "left", "baseline": "middle", "dx": -46, "font": "Lato", "fontSize": 7, "fontWeight": "bold", "color": "#231f20"}},
      {"transform": [{"filter": "datum.part == 'tail'"}], "mark": {"type": "text", "align": "right", "baseline": "middle", "dx": 213, "font": "Lato", "fontSize": 7, "color": "#231f20"}},
      {"transform": [{"filter": "datum.col == 'R'"}], "mark": {"type": "text", "align": "left", "baseline": "middle", "dx": 105, "dy": -8.5, "font": "Lato", "fontSize": 7, "color": "#231f20"}}
    ]
   }
]
}
